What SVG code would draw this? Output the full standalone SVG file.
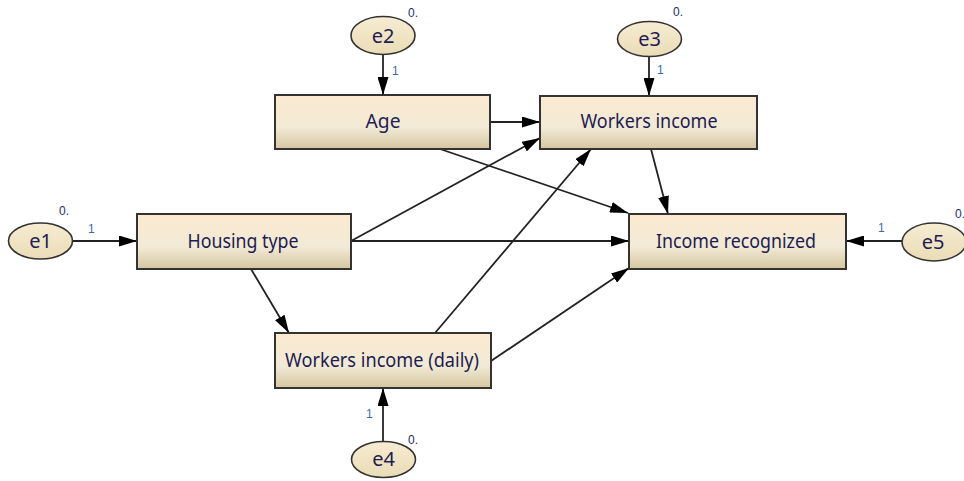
<svg xmlns="http://www.w3.org/2000/svg" width="964" height="481" viewBox="0 0 964 481">
<style>
.box{stroke:#333;stroke-width:2;fill:url(#bg)}
.ell{stroke:#333;stroke-width:1.6;fill:url(#eg)}
.lbl{font-family:"Noto Sans","Liberation Sans",sans-serif;font-size:19px;fill:#221c52;text-anchor:middle}
.el{font-size:20px}
.one{font-family:"Liberation Sans",sans-serif;font-size:12px;fill:#3d6aa8}
.zero{font-family:"Liberation Sans",sans-serif;font-size:12px;fill:#1f2d6e}
.con line{stroke:#222;stroke-width:1.8;marker-end:url(#ah)}
</style>
<defs>
<linearGradient id="bg" x1="0" y1="0" x2="0" y2="1">
<stop offset="0" stop-color="#fcead0"/>
<stop offset="0.6" stop-color="#f2ead6"/>
<stop offset="1" stop-color="#d6c6a0"/>
</linearGradient>
<linearGradient id="eg" x1="0" y1="0" x2="0" y2="1">
<stop offset="0" stop-color="#f6ecd2"/>
<stop offset="1" stop-color="#eadcb6"/>
</linearGradient>
<marker id="ah" markerUnits="userSpaceOnUse" markerWidth="18" markerHeight="11" refX="18" refY="5.5" orient="auto" viewBox="0 0 18 11">
<path d="M0,0 L18,5.5 L0,11 z" fill="#000"/>
</marker>
</defs>
<rect width="964" height="481" fill="#fff"/>
<g id="connectors" class="con">
<line x1="383" y1="55" x2="383" y2="95"/>
<line x1="649" y1="57" x2="649" y2="96"/>
<line x1="73" y1="241" x2="137" y2="241"/>
<line x1="902" y1="241" x2="846" y2="241"/>
<line x1="383" y1="441" x2="383" y2="388"/>
<line x1="490" y1="122" x2="540" y2="122"/>
<line x1="440" y1="149" x2="628" y2="213"/>
<line x1="351" y1="241" x2="540" y2="138"/>
<line x1="351" y1="241" x2="629" y2="241"/>
<line x1="251" y1="269" x2="289" y2="333"/>
<line x1="435" y1="333" x2="591" y2="149"/>
<line x1="491" y1="361" x2="629" y2="268"/>
<line x1="651" y1="149" x2="668" y2="214"/>
</g>
<g id="age"><rect class="box" x="275" y="95" width="215" height="54"/><text class="lbl" x="383" y="128" textLength="35" lengthAdjust="spacingAndGlyphs">Age</text></g>
<g id="workers-income"><rect class="box" x="540" y="96" width="217" height="53"/><text class="lbl" x="649" y="128" textLength="137" lengthAdjust="spacingAndGlyphs">Workers income</text></g>
<g id="housing-type"><rect class="box" x="137" y="214" width="214" height="55"/><text class="lbl" x="243" y="248" textLength="111" lengthAdjust="spacingAndGlyphs">Housing type</text></g>
<g id="income-recognized"><rect class="box" x="629" y="214" width="217" height="55"/><text class="lbl" x="736" y="248" textLength="160" lengthAdjust="spacingAndGlyphs">Income recognized</text></g>
<g id="workers-income-daily"><rect class="box" x="275" y="333" width="216" height="55"/><text class="lbl" x="382" y="367" textLength="194" lengthAdjust="spacingAndGlyphs">Workers income (daily)</text></g>
<g id="e1"><ellipse class="ell" cx="40.5" cy="241" rx="32" ry="18"/><text class="lbl el" x="40.5" y="248">e1</text><text class="zero" x="59" y="215">0.</text><text class="one" x="88" y="233">1</text></g>
<g id="e2"><ellipse class="ell" cx="383" cy="35.5" rx="32" ry="19"/><text class="lbl el" x="383" y="43">e2</text><text class="zero" x="408" y="17">0.</text><text class="one" x="392" y="75">1</text></g>
<g id="e3"><ellipse class="ell" cx="649.5" cy="39" rx="32" ry="17.5"/><text class="lbl el" x="649.5" y="46">e3</text><text class="zero" x="673" y="16">0.</text><text class="one" x="657" y="74">1</text></g>
<g id="e4"><ellipse class="ell" cx="383.5" cy="459.5" rx="32" ry="18"/><text class="lbl el" x="383.5" y="466">e4</text><text class="zero" x="408" y="444">0.</text><text class="one" x="366" y="418">1</text></g>
<g id="e5"><ellipse class="ell" cx="934" cy="242" rx="32" ry="19"/><text class="lbl el" x="933" y="249">e5</text><text class="zero" x="955" y="218">0.</text><text class="one" x="878" y="232">1</text></g>
</svg>
